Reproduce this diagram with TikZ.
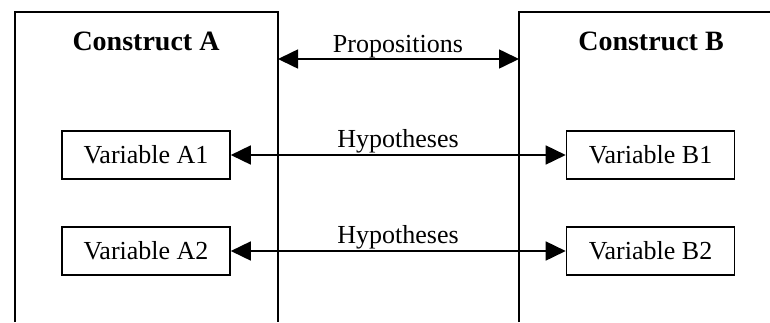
\documentclass[tikz,border=0pt]{standalone}
\usepackage{fontspec}
\setmainfont{Liberation Serif}
\usetikzlibrary{arrows.meta}
\begin{document}
\begin{tikzpicture}[x=1pt, y=-1pt, line width=1.6pt,
    var/.style={draw, minimum width=168pt, minimum height=48pt, inner sep=0pt,
                font=\fontsize{26}{30}\selectfont},
    lbl/.style={inner sep=0pt, anchor=base, font=\fontsize{26}{30}\selectfont},
    head/.style={inner sep=0pt, anchor=base, font=\fontsize{28}{32}\selectfont\bfseries},
    link/.style={{Triangle[length=20pt,width=19pt]}-{Triangle[length=20pt,width=19pt]}}]
                \useasboundingbox (0,0) rectangle (770,322);
                % constructs
                \draw (15,322) -- (15,12) -- (278,12) -- (278,322);
                \draw (519,322) -- (519,12) -- (770,12);
                \node [head] (cA) at (146,50) {Construct A};
                \node [head] (cB) at (651,50) {Construct B};
                \coordinate (pA) at (278,59);
                \coordinate (pB) at (519,59);
                % variables
                \node [var] (a1) at (146,155) {Variable A1};
                \node [var] (a2) at (146,251) {Variable A2};
                \node [var] (b1) at (650.5,155) {Variable B1};
                \node [var] (b2) at (650.5,251) {Variable B2};
                % links
                \draw [link] (pA) -- (pB);
                \draw [link] (a1) -- (b1);
                \draw [link] (a2) -- (b2);
                \node [lbl] (prop) at (398,52) {Propositions};
                \node [lbl] (hyp1) at (398,147) {Hypotheses};
                \node [lbl] (hyp2) at (398,243) {Hypotheses};
\end{tikzpicture}
\end{document}
